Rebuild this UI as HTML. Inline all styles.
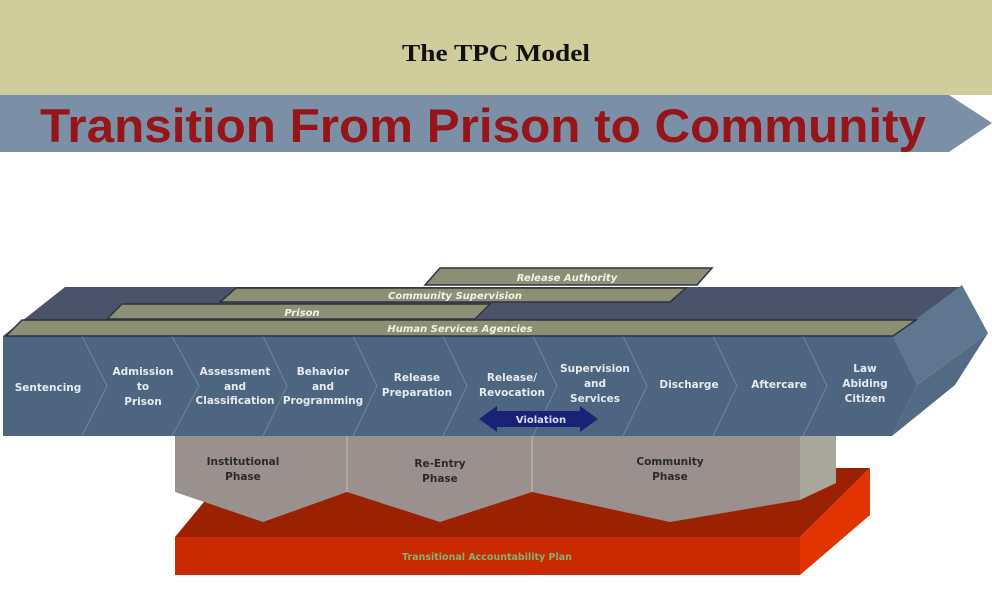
<!DOCTYPE html>
<html><head><meta charset="utf-8"><style>
html,body{margin:0;padding:0;background:#fff}
svg{display:block}
.l{font-family:"DejaVu Sans","Liberation Sans",sans-serif;font-weight:bold;font-size:10.5px;fill:#e6ebf0;text-anchor:middle}
.b{font-family:"DejaVu Sans","Liberation Sans",sans-serif;font-weight:bold;font-style:italic;font-size:10px;fill:#f2f2ea;text-anchor:middle}
.p{font-family:"DejaVu Sans","Liberation Sans",sans-serif;font-weight:bold;font-size:10.5px;fill:#2a2a2a;text-anchor:middle}
</style></head><body>
<svg width="992" height="608" viewBox="0 0 992 608" xmlns="http://www.w3.org/2000/svg">
<rect x="0" y="0" width="992" height="95" fill="#cfcd9c"/>
<text x="496" y="61" font-family="Liberation Serif,serif" font-weight="bold" font-size="24" text-anchor="middle" textLength="188" lengthAdjust="spacingAndGlyphs" fill="#111">The TPC Model</text>
<polygon points="0,95 949,95 992,123 949,152 0,152" fill="#7b8fa7"/>
<text x="40" y="142" font-family="Liberation Sans,sans-serif" font-weight="bold" font-size="47" textLength="886" lengthAdjust="spacingAndGlyphs" fill="#951518">Transition From Prison to Community</text>

<!-- red plate -->
<polygon points="175,537 232,468 870,468 800,537" fill="#9a2200"/>
<polygon points="175,537 800,537 800,575 175,575" fill="#c92a02"/>
<polygon points="800,537 870,468 870,515 800,575" fill="#e23400"/>
<text x="487" y="560" font-family="DejaVu Sans,sans-serif" font-weight="bold" font-size="9.5" fill="#7fb574" text-anchor="middle">Transitional Accountability Plan</text>

<!-- phases -->
<polygon points="800,436 836,436 836,483 800,500" fill="#a9a79c"/>
<polygon points="175,436 347,436 347,492 263,522 175,492" fill="#9a908e"/>
<polygon points="347,436 532,436 532,492 440,522 347,492" fill="#9a908e"/>
<polygon points="532,436 800,436 800,500 670,522 532,492" fill="#9a908e"/>
<line x1="347" y1="436" x2="347" y2="492" stroke="#c8c2bf" stroke-width="1"/>
<line x1="532" y1="436" x2="532" y2="492" stroke="#c8c2bf" stroke-width="1"/>
<text class="p" x="243" y="465">Institutional</text><text class="p" x="243" y="480">Phase</text>
<text class="p" x="440" y="467">Re-Entry</text><text class="p" x="440" y="482">Phase</text>
<text class="p" x="670" y="465">Community</text><text class="p" x="670" y="480">Phase</text>

<!-- main block -->
<polygon points="3,336 65,287 962,287 892,337" fill="#4a5369"/>
<polygon points="892,337 962,285 988,333 917,385" fill="#5f7691"/>
<polygon points="917,385 988,333 955,385 892,436" fill="#526a84"/>
<polygon points="3,336 892,336 917,385 892,436 3,436" fill="#4d6580"/>
<g stroke="#6c829a" stroke-width="1.2" fill="none">
<polyline points="82,336 107,386 82,436"/><polyline points="172,336 199,386 172,436"/>
<polyline points="263,336 287,386 263,436"/><polyline points="353,336 377,386 353,436"/>
<polyline points="443,336 467,386 443,436"/><polyline points="533,336 557,386 533,436"/>
<polyline points="623,336 647,386 623,436"/><polyline points="713,336 737,386 713,436"/>
<polyline points="803,336 827,386 803,436"/>
</g>
<!-- bands -->
<polygon points="425,285 440,268 712,268 697,285" fill="#8c8f74" stroke="#2e3340" stroke-width="1.5"/>
<polygon points="220,302 236,288 686,288 670,302" fill="#8c8f74" stroke="#2e3340" stroke-width="1.5"/>
<polygon points="107,319 122,304 490,304 475,319" fill="#8c8f74" stroke="#2e3340" stroke-width="1.5"/>
<polygon points="6,336 22,320 916,320 893,336" fill="#8c8f74" stroke="#2e3340" stroke-width="1.5"/>
<text class="b" x="567" y="281">Release Authority</text>
<text class="b" x="455" y="299">Community Supervision</text>
<text class="b" x="302" y="316">Prison</text>
<text class="b" x="460" y="332">Human Services Agencies</text>

<text class="l" x="48" y="391">Sentencing</text>
<text class="l" x="143" y="375">Admission</text><text class="l" x="143" y="390">to</text><text class="l" x="143" y="405">Prison</text>
<text class="l" x="235" y="375">Assessment</text><text class="l" x="235" y="390">and</text><text class="l" x="235" y="404">Classification</text>
<text class="l" x="323" y="375">Behavior</text><text class="l" x="323" y="390">and</text><text class="l" x="323" y="404">Programming</text>
<text class="l" x="417" y="381">Release</text><text class="l" x="417" y="396">Preparation</text>
<text class="l" x="512" y="381">Release/</text><text class="l" x="512" y="396">Revocation</text>
<text class="l" x="595" y="372">Supervision</text><text class="l" x="595" y="387">and</text><text class="l" x="595" y="402">Services</text>
<text class="l" x="689" y="388">Discharge</text>
<text class="l" x="779" y="388">Aftercare</text>
<text class="l" x="865" y="372">Law</text><text class="l" x="865" y="387">Abiding</text><text class="l" x="865" y="402">Citizen</text>

<polygon points="479,419 497,406 497,411 580,411 580,406 598,419 580,432 580,427 497,427 497,432" fill="#1a2277"/>
<text x="541" y="423" font-family="DejaVu Sans,sans-serif" font-weight="bold" font-size="10" fill="#d8ddf0" text-anchor="middle">Violation</text>
</svg>
</body></html>
